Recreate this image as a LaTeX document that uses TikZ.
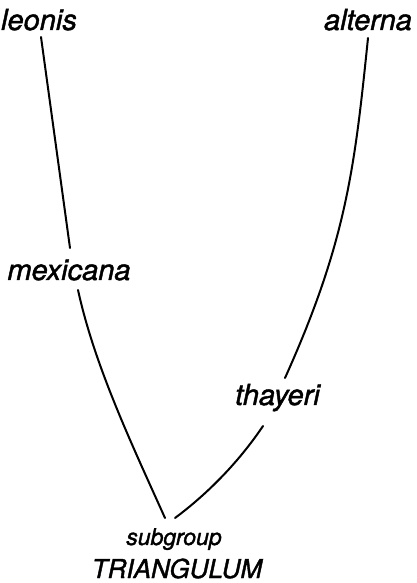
\documentclass[tikz,border=0pt]{standalone}
\usepackage{fontspec}
\setmainfont{TeX Gyre Heros}[ItalicFeatures={FakeBold=1.5}]
\usepackage{tikz}

\begin{document}
\begin{tikzpicture}[
  x=1pt,y=1pt,
  taxon/.style={font=\fontsize{29}{30}\selectfont\itshape,inner sep=0pt,anchor=base},
  small/.style={font=\fontsize{23}{24}\selectfont\itshape,inner sep=0pt,anchor=base},
  group/.style={font=\fontsize{26}{28}\selectfont\itshape,inner sep=0pt,anchor=base},
  branch/.style={line width=2pt,draw=black,line cap=round,line join=round}
]
\useasboundingbox (0,0) rectangle (416,583);

\node[taxon] (leonis) at (39,553) {leonis};
\node[taxon] (alterna) at (368,553) {alterna};
\node[taxon] (mexicana) at (69,303) {mexicana};
\node[taxon] (thayeri) at (277.5,178) {thayeri};
\node[small] (subgroup) at (174,38) {subgroup};
\node[group] (triangulum) at (177,5) {TRIANGULUM};

\draw[branch] ([shift={(2,-7)}]leonis.base) -- ([shift={(1,32)}]mexicana.base);
\draw[branch] ([shift={(9,-10)}]mexicana.base)
  .. controls +(16.7,-76) and +(-34.2,76) .. ([shift={(-9,27)}]subgroup.base);
\draw[branch] ([shift={(0,-8)}]alterna.base)
  .. controls +(-13.3,-129.3) and +(61.5,136.5) .. ([shift={(7.5,27)}]thayeri.base);
\draw[branch] ([shift={(-14.5,-21)}]thayeri.base)
  .. controls +(-23.5,-35) and +(33.6,25) .. ([shift={(1,27)}]subgroup.base);
\end{tikzpicture}
\end{document}
